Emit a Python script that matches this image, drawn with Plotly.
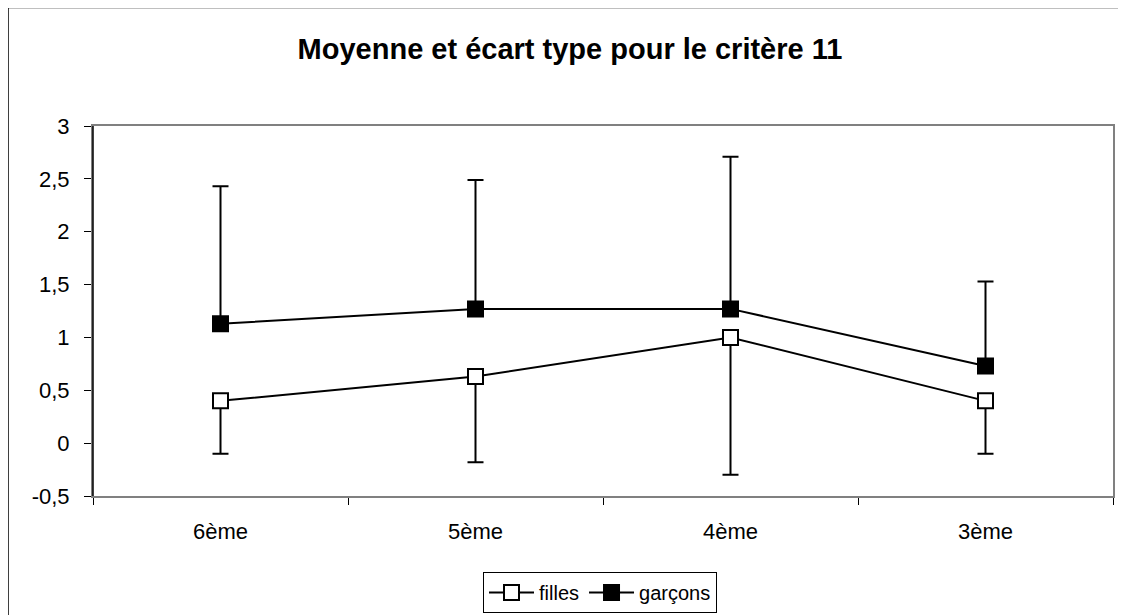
import plotly.graph_objects as go

categories = ["6ème", "5ème", "4ème", "3ème"]
filles_mean = [0.40, 0.63, 1.00, 0.40]
filles_sd = [0.50, 0.81, 1.30, 0.50]
garcons_mean = [1.13, 1.27, 1.27, 0.73]
garcons_sd = [1.30, 1.22, 1.44, 0.80]
zeros = [0, 0, 0, 0]
y_tickvals = [-0.5, 0, 0.5, 1, 1.5, 2, 2.5, 3]
y_ticktext = ["-0,5", "0", "0,5", "1", "1,5", "2", "2,5", "3"]

FONT = "Liberation Sans, Arial, sans-serif"

# page body has an 8px margin: figure spans page px 8..1126, 8..615
W, H = 1118, 607
L, T = 85, 118
PW, PH = 1020, 370

fig = go.Figure()
fig.add_trace(go.Scatter(
    x=categories, y=filles_mean, name="filles", mode="lines+markers",
    line=dict(color="black", width=2),
    marker=dict(symbol="square", size=15, color="white", line=dict(color="black", width=2)),
    error_y=dict(type="data", symmetric=False, array=zeros, arrayminus=filles_sd,
                 color="black", thickness=2, width=8),
))
fig.add_trace(go.Scatter(
    x=categories, y=garcons_mean, name="garçons", mode="lines+markers",
    line=dict(color="black", width=2),
    marker=dict(symbol="square", size=15, color="black", line=dict(color="black", width=2)),
    error_y=dict(type="data", symmetric=False, array=garcons_sd, arrayminus=zeros,
                 color="black", thickness=2, width=8),
))

fig.update_layout(
    width=W, height=H,
    margin=dict(l=L, r=W - L - PW, t=T, b=H - T - PH, pad=0),
    paper_bgcolor="white", plot_bgcolor="white",
    font=dict(family=FONT, color="black", size=21),
    title=dict(text="<b>Moyenne et écart type pour le critère 11</b>",
               x=562 / W, xref="container", xanchor="center",
               y=1 - 41 / H, yref="container", yanchor="middle",
               font=dict(family=FONT, size=29, color="black")),
    showlegend=True,
    legend=dict(orientation="h", xref="container", yref="container",
                x=592 / W, xanchor="center",
                y=1 - 564 / H, yanchor="top",
                bordercolor="black", borderwidth=1, bgcolor="white",
                font=dict(family=FONT, size=20, color="black"),
                itemwidth=45, traceorder="normal"),
    xaxis=dict(type="category", showgrid=False, zeroline=False,
               showline=True, linecolor="#808080", linewidth=2, mirror=True,
               ticks="outside", tickson="boundaries", ticklen=7, tickcolor="black",
               tickwidth=1, ticklabelstandoff=15,
               tickfont=dict(family=FONT, size=22, color="black"),
               range=[-0.5, 3.5]),
    yaxis=dict(range=[-0.5, 3], tickmode="array", tickvals=y_tickvals, ticktext=y_ticktext,
               showgrid=False, zeroline=False,
               showline=True, linecolor="#808080", linewidth=2, mirror=True,
               ticks="outside", ticklen=7, tickcolor="black", tickwidth=1,
               ticklabelstandoff=10,
               tickfont=dict(family=FONT, size=22, color="black")),
    shapes=[
        dict(type="line", xref="paper", yref="paper", x0=0, x1=0, y0=0, y1=1,
             line=dict(color="black", width=1.5), layer="above"),
        dict(type="rect", xref="paper", yref="paper",
             x0=(0 - L) / PW, x1=(W + 20 - L) / PW, y0=-0.4, y1=(T + PH + 0.5) / PH,
             line=dict(color="black", width=1.5), fillcolor="rgba(0,0,0,0)"),
    ],
)

fig.write_html("out.html")
